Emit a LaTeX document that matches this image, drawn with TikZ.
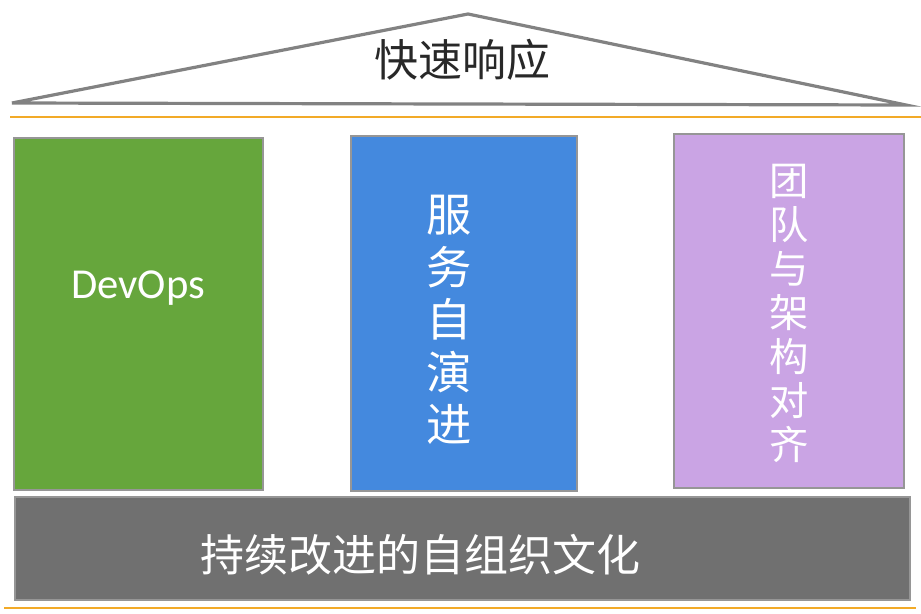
\documentclass[tikz,border=0pt]{standalone}
\usepackage{fontspec}
\setmainfont{Noto Sans CJK SC}
\newfontfamily\latinfont{Carlito}
\definecolor{roofgray}{RGB}{130,130,130}
\definecolor{linorange}{RGB}{242,170,40}
\definecolor{colgreen}{RGB}{102,166,60}
\definecolor{colblue}{RGB}{68,137,222}
\definecolor{colpurple}{RGB}{202,164,228}
\definecolor{basegray}{RGB}{112,112,112}
\definecolor{edgegray}{RGB}{150,150,150}
\definecolor{titletext}{RGB}{40,40,40}
\tikzset{
  pillar/.style={draw=edgegray, line width=2.2pt},
  hline/.style={draw=linorange, line width=2pt},
  rooflines/.style={draw=roofgray, line width=2.4pt, line join=miter},
  whitetext/.style={text=white, inner sep=0pt},
}
\begin{document}
\begin{tikzpicture}[x=0.75pt, y=-0.75pt]
\useasboundingbox (0,0) rectangle (921,614);
% roof
\coordinate (rl) at (12,103);
\coordinate (ra) at (468,14);
\coordinate (rr) at (906,105);
\draw[rooflines] (rl) -- (ra) -- (rr) -- cycle;
\node[text=titletext, inner sep=0pt, font=\fontsize{33}{36}\selectfont] (title) at (462,60) {快速响应};
% orange lines
\coordinate (o1a) at (10,117);
\coordinate (o1b) at (921,117);
\draw[hline] (o1a) -- (o1b);
\coordinate (o2a) at (4,608);
\coordinate (o2b) at (916,608);
\draw[hline] (o2a) -- (o2b);
% pillars
\path[pillar, fill=colgreen] (14,138) rectangle (263,490);
\path[pillar, fill=colblue] (351,136) rectangle (577,491);
\path[pillar, fill=colpurple] (674,134) rectangle (904,488);
\node[whitetext, font=\latinfont\fontsize{32}{36}\selectfont] (devops) at (138,288) {DevOps};
\node[whitetext, align=center, font=\fontsize{34}{39.4}\selectfont] (svc) at (449,320) {服\\务\\自\\演\\进};
\node[whitetext, align=center, font=\fontsize{29.5}{33}\selectfont] (team) at (789,313) {团\\队\\与\\架\\构\\对\\齐};
% base
\path[draw=edgegray, line width=1.5pt, fill=basegray] (15,497) rectangle (910,600);
\node[whitetext, font=\fontsize{33}{36}\selectfont] (culture) at (420,555) {持续改进的自组织文化};
\end{tikzpicture}
\end{document}
